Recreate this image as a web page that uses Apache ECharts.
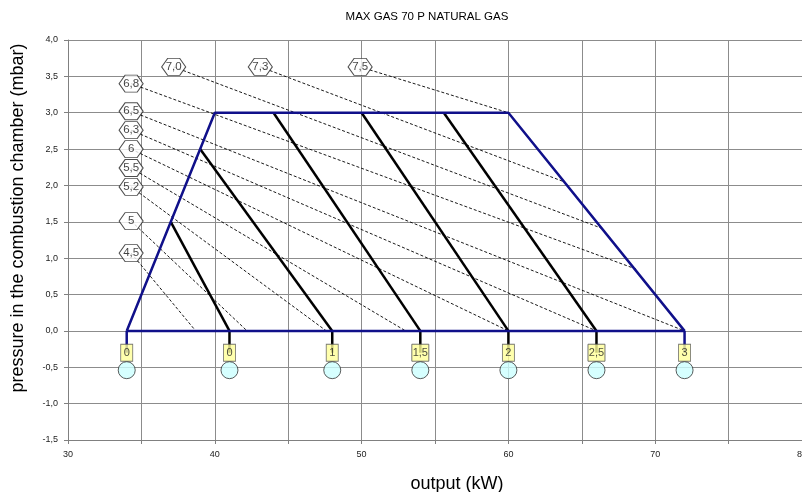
<!DOCTYPE html>
<html><head><meta charset="utf-8">
<script src="https://cdn.jsdelivr.net/npm/echarts@6/dist/echarts.min.js"></script>
<style>html,body{margin:0;padding:0;background:#fff;overflow:hidden}#c{width:802px;height:492px}</style>
</head><body><div id="c"></div>
<script>
// ---- data ----
const titleText = 'MAX GAS 70 P NATURAL GAS';
const xName = 'output (kW)';
const yName = 'pressure in the combustion chamber (mbar)';
// operating envelope (kW, mbar)
const envelope = [[34,0],[40,3],[60,3],[72,0],[34,0]];
// thick black lines: [start, end]
const blackLines = [
  [[37,1.5],[41,0]],
  [[39,2.5],[48,0]],
  [[44,3],[54,0]],
  [[50,3],[60,0]],
  [[55.6,3],[66,0]]
];
// iso (dashed) lines: label, label position, end point
const isoLabels = ['4,5','5','5,2','5,5','6','6,3','6,5','6,8','7,0','7,3','7,5'];
const isoLabelPos = [[34.3,1.07],[34.3,1.51],[34.3,1.98],[34.3,2.24],[34.3,2.50],[34.3,2.76],[34.3,3.02],[34.3,3.40],[37.2,3.63],[43.1,3.63],[49.9,3.63]];
const isoEnd = [[38.7,0],[42.2,0],[47.6,0],[53,0],[60,0],[66,0],[72,0],[68.7,0.85],[66.5,1.4],[63.8,2.05],[60,3]];
// bottom markers
const bottomX = [34,41,48,54,60,66,72];
const bottomLabels = ['0','0','1','1,5','2','2,5','3'];
const bottomStubColor = ['blue','black','black','black','black','black','blue'];
const boxY = -0.3;
const circleY = -0.54;
// axes
const xMin = 30, xMax = 80, xStep = 5;
const yMin = -1.5, yMax = 4, yStep = 0.5;

// ---- chart ----
const NAVY = '#10108a';
const FONT = 'Liberation Sans, Arial, sans-serif';
const series = [];
isoLabels.forEach((lab,i)=>{
  series.push({type:'line', data:[isoLabelPos[i], isoEnd[i]], symbol:'none', silent:true, z:2,
    lineStyle:{color:'#000', width:0.9, type:[3,2]}});
});
series.push({type:'line', data:envelope, symbol:'none', z:4, lineStyle:{color:NAVY, width:2.5}});
blackLines.forEach(seg=>{
  series.push({type:'line', data:seg, symbol:'none', z:3, lineStyle:{color:'#000', width:2.5}});
});
bottomX.forEach((x,i)=>{
  series.push({type:'line', data:[[x,0],[x,boxY]], symbol:'none', z:3,
    lineStyle:{color: bottomStubColor[i]==='blue'?NAVY:'#000', width:2.5}});
});
series.push({type:'scatter', z:6,
  data: isoLabels.map((l,i)=>({value:isoLabelPos[i], label:{formatter:l}})),
  symbol:'path://M0,5 L3,0 L9,0 L12,5 L9,10 L3,10 Z', symbolSize:[24,17],
  itemStyle:{color:'#fff', borderColor:'#222', borderWidth:1},
  label:{show:true, position:'inside', color:'#111', fontSize:11.5, fontFamily:FONT}});
series.push({type:'scatter', z:6,
  data: bottomX.map((x,i)=>({value:[x,boxY], symbolSize:[bottomLabels[i].length>1?17:12,17], label:{formatter:bottomLabels[i]}})),
  symbol:'rect',
  itemStyle:{color:'#ffff99', borderColor:'#555', borderWidth:1},
  label:{show:true, position:'inside', color:'#222', fontSize:11, fontFamily:FONT}});
series.push({type:'scatter', z:6,
  data: bottomX.map(x=>[x,circleY]), symbol:'circle', symbolSize:17,
  itemStyle:{color:'#ccffff', borderColor:'#333', borderWidth:1}});

const chart = echarts.init(document.getElementById('c'), null, {renderer:'canvas', width:802, height:492});
chart.setOption({
  animation:false,
  backgroundColor:'#fff',
  textStyle:{fontFamily:FONT},
  grid:{left:68, right:0, top:40, bottom:52, containLabel:false, outerBoundsMode:'none'},
  graphic:[
    {type:'text', x:427, y:17, style:{text:titleText, fontSize:11.5, fill:'#000', align:'center', verticalAlign:'middle', fontFamily:FONT}},
    {type:'text', x:457, y:484, style:{text:xName, fontSize:18, fill:'#000', align:'center', verticalAlign:'middle', fontFamily:FONT}},
    {type:'text', x:18, y:218, rotation:Math.PI/2, style:{text:yName, fontSize:18, fill:'#000', align:'center', verticalAlign:'middle', fontFamily:FONT}}
  ],
  xAxis:{type:'value', min:xMin, max:xMax, interval:xStep,
    axisLine:{show:true, onZero:false, lineStyle:{color:'#808080'}},
    axisTick:{show:true, length:4, lineStyle:{color:'#808080'}},
    splitLine:{show:true, lineStyle:{color:'#8c8c8c', width:1}},
    axisLabel:{fontSize:9, color:'#222', margin:10, formatter:v=> (v%10===0? String(v):'')}},
  yAxis:{type:'value', min:yMin, max:yMax, interval:yStep,
    axisLine:{show:true, onZero:false, lineStyle:{color:'#808080'}},
    axisTick:{show:true, length:4, lineStyle:{color:'#808080'}},
    splitLine:{show:true, lineStyle:{color:'#8c8c8c', width:1}},
    axisLabel:{fontSize:9, color:'#222', margin:10, formatter:v=>v.toFixed(1).replace('.',',')}},
  series: series
});
</script>
</body></html>
